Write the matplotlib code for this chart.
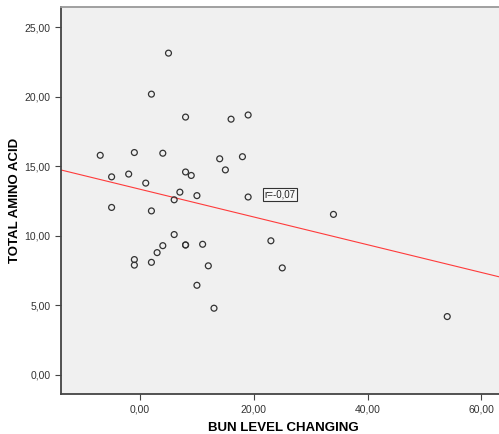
import numpy as np
import matplotlib
matplotlib.use("Agg")
import matplotlib.pyplot as plt

plt.rcParams["font.family"] = ["Liberation Sans", "DejaVu Sans"]

# BUN level changing vs total amino acid
bun_change = [5, 2, 8, 16, 19, -7, -1, 4, 14, 18, 15, -5, -2, 8, 9, 1, 7, 10, 19, 6,
              -5, 2, 6, -1, -1, 2, 3, 4, 8, 8, 11, 12, 10, 13, 34, 23, 25, 54]
total_aa = [23.15, 20.2, 18.55, 18.4, 18.7, 15.8, 16.0, 15.95, 15.55, 15.7, 14.75, 14.25,
            14.45, 14.6, 14.35, 13.8, 13.15, 12.9, 12.8, 12.6, 12.05, 11.8, 10.1, 8.3,
            7.9, 8.1, 8.8, 9.3, 9.35, 9.35, 9.4, 7.85, 6.45, 4.8, 11.55, 9.65, 7.7, 4.2]
r_label = "r=-0,07"

x_ticks = [0, 20, 40, 60]
y_ticks = [0, 5, 10, 15, 20, 25]

fig = plt.figure(figsize=(4.99, 4.34), dpi=100)
ax = fig.add_axes([0.1222, 0.0922, 0.8778, 0.8917])
ax.set_facecolor("#f0f0f0")

ax.scatter(bun_change, total_aa, s=18, facecolors="none", edgecolors="#333333",
           linewidths=0.9, zorder=3)

slope, intercept = np.polyfit(bun_change, total_aa, 1)
xs = np.array([-13.9, 63.1])
ax.plot(xs, intercept + slope * xs, color="#ff3b3b", lw=0.8, zorder=2)

ax.text(21.9, 13.0, r_label, fontsize=7, va="center", ha="left", color="#222222",
        bbox=dict(boxstyle="square,pad=0.15", fc="#f7f7f7", ec="#333333", lw=0.8))

ax.set_xlim(-13.9, 63.1)
ax.set_ylim(-1.37, 26.47)
ax.set_xticks(x_ticks)
ax.set_yticks(y_ticks)
ax.set_xticklabels([f"{v:.2f}".replace(".", ",") for v in x_ticks])
ax.set_yticklabels([f"{v:.2f}".replace(".", ",") for v in y_ticks])
ax.tick_params(direction="out", length=4, width=0.8, color="#444444",
               labelsize=7.5, labelcolor="#333333")

for side in ["left", "bottom"]:
    ax.spines[side].set_color("#444444")
    ax.spines[side].set_linewidth(1.3)
ax.spines["top"].set_color("#999999")
ax.spines["top"].set_linewidth(1.3)
ax.spines["right"].set_visible(False)

ax.set_xlabel("BUN LEVEL CHANGING", fontsize=9.5, fontweight="bold", va="center")
ax.xaxis.set_label_coords(0.507, -0.088)
ax.set_ylabel("TOTAL AMINO ACID", fontsize=9.5, fontweight="bold", va="center")
ax.yaxis.set_label_coords(-0.105, 0.499)

fig.savefig("out.png", dpi=100)
